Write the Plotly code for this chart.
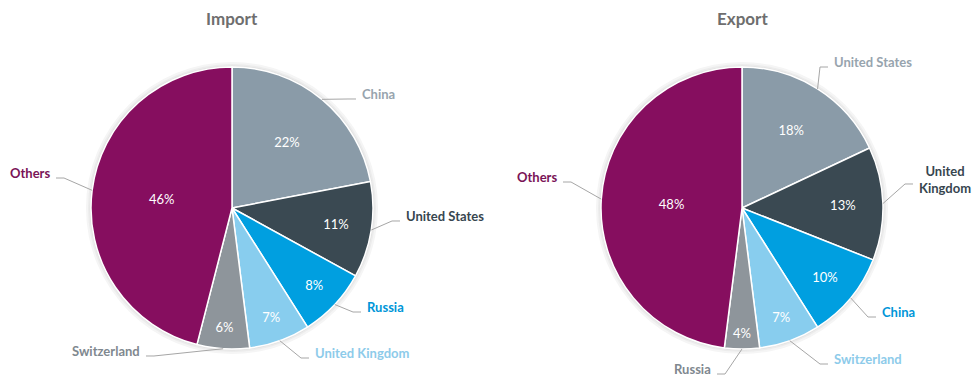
import math
import plotly.graph_objects as go

# ---------------- data ----------------
import_labels = ["China", "United States", "Russia", "United Kingdom", "Switzerland", "Others"]
import_values = [22, 11, 8, 7, 6, 46]

export_labels = ["United States", "United Kingdom", "China", "Switzerland", "Russia", "Others"]
export_values = [18, 13, 10, 7, 4, 48]

titles = ["Import", "Export"]

# ---------------- style ----------------
W, H = 978, 382
SLICE_COLORS = ["#8A9BA8", "#3A4952", "#009FE0", "#88CDEE", "#8E959B", "#860E5F"]
LABEL_COLORS = ["#97A4AE", "#37464F", "#0096D8", "#8DCBEA", "#7F888F", "#7A1457"]
FONT = "Lato"

PIE_CENTERS = [(232, 208), (742, 208)]   # px
PIE_R = 141                               # px
# label near-edge anchor offsets (px, relative to the pie centre)
LABEL_OFFSETS = [
    [(128, -114), (172, 8), (133, 99), (81, 145), (-90, 143), (-180, -35)],
    [(90, -146), (175, -29), (138, 104), (90, 151), (-29, 161), (-183, -31)],
]


def px(x, y):
    return x / W, 1 - y / H


fig = go.Figure()
shapes = []
annotations = []

for i, (labels, values) in enumerate([(import_labels, import_values),
                                      (export_labels, export_values)]):
    cx, cy = PIE_CENTERS[i]
    x0, _ = px(cx - PIE_R, 0)
    x1, _ = px(cx + PIE_R, 0)
    _, y0 = px(0, cy + PIE_R)
    _, y1 = px(0, cy - PIE_R)

    # soft halo behind the pie
    for grow, col in [(5, "#F5F5F5"), (3, "#ECECEC"), (1.5, "#E2E2E2")]:
        a = px(cx - PIE_R - grow, cy + PIE_R + grow)
        b = px(cx + PIE_R + grow, cy - PIE_R - grow)
        shapes.append(dict(type="circle", xref="paper", yref="paper", layer="below",
                           x0=a[0], y0=a[1], x1=b[0], y1=b[1],
                           fillcolor=col, line=dict(width=0)))

    fig.add_trace(go.Pie(
        labels=labels, values=values, sort=False, direction="clockwise", rotation=0,
        domain=dict(x=[x0, x1], y=[y0, y1]),
        marker=dict(colors=SLICE_COLORS, line=dict(color="white", width=1.5)),
        texttemplate="%{value}%", textposition="inside",
        insidetextorientation="horizontal",
        textfont=dict(family=FONT, size=13, color="white"),
        showlegend=False, hoverinfo="label+value",
    ))

    # title
    tx, ty = px(cx, 19)
    annotations.append(dict(x=tx, y=ty, xref="paper", yref="paper", showarrow=False,
                            xanchor="center", yanchor="middle",
                            text="<b>%s</b>" % titles[i],
                            font=dict(family=FONT, size=17, color="#6E6E6E")))

    total = float(sum(values))
    cum = 0.0
    for j, (lab, v) in enumerate(zip(labels, values)):
        mid = (cum + v / 2.0) / total * 2 * math.pi
        cum += v
        ex = cx + PIE_R * math.sin(mid)
        ey = cy - PIE_R * math.cos(mid)
        dx, dy = LABEL_OFFSETS[i][j]
        lx, ly = cx + dx, cy + dy
        s = 1 if dx > 0 else -1
        kx, ky = lx - s * 12, ly + 5
        endx = lx - s * 4
        p0 = px(ex, ey)
        p1 = px(kx, ky)
        p2 = px(endx, ky)
        shapes.append(dict(type="path", xref="paper", yref="paper",
                           path="M %f,%f L %f,%f L %f,%f" % (p0[0], p0[1], p1[0], p1[1], p2[0], p2[1]),
                           line=dict(color="#A6A6A6", width=1)))
        ax_, ay_ = px(lx, ly)
        text = lab
        if lab == "United Kingdom" and i == 1:
            text = "United<br>Kingdom"
        annotations.append(dict(x=ax_, y=ay_, xref="paper", yref="paper", showarrow=False,
                                text="<b>%s</b>" % text, align="center",
                                xanchor="left" if s > 0 else "right", yanchor="middle",
                                font=dict(family=FONT, size=13, color=LABEL_COLORS[j])))

fig.update_layout(
    width=W, height=H,
    margin=dict(l=0, r=0, t=0, b=0),
    paper_bgcolor="white", plot_bgcolor="white",
    shapes=shapes, annotations=annotations,
    font=dict(family=FONT),
)

fig.write_html("out.html", config={"displayModeBar": False},
               post_script="document.body.style.margin='0';document.body.style.overflow='hidden';")
